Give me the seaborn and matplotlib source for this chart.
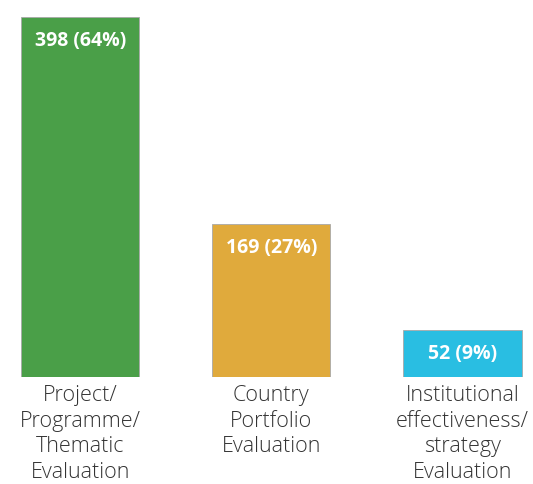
import numpy as np
import pandas as pd
import matplotlib
matplotlib.use("Agg")
import matplotlib.pyplot as plt
import seaborn as sns

# data
categories = ["Project/\nProgramme/\nThematic\nEvaluation",
              "Country\nPortfolio\nEvaluation",
              "Institutional\neffectiveness/\nstrategy\nEvaluation"]
counts = [398, 169, 52]
shares = [64, 27, 9]
colors = ["#4a9f48", "#e0aa3c", "#29bee2"]

sns.set_style("white")
plt.rcParams['font.family'] = ['Open Sans', 'DejaVu Sans']

df = pd.DataFrame({"cat": categories, "n": counts})

fig = plt.figure(figsize=(5.33, 4.84), dpi=100)
ax = fig.add_axes([0, 1 - 377 / 484, 1, 377 / 484])
sns.barplot(data=df, x="cat", y="n", hue="cat", palette=colors, width=0.62,
            edgecolor="#a8a8a8", linewidth=0.6, saturation=1, legend=False, ax=ax)

ax.set_xlim(-0.42, 2.37)
ax.set_ylim(0, 416.8)
ax.set_xlabel("")
ax.set_ylabel("")
ax.set_yticks([])
ax.tick_params(axis="x", length=0, pad=6)
ax.set_xticks(range(len(categories)))
ax.set_xticklabels(categories, fontsize=15.5, color="#333333", linespacing=1.28,
                   fontweight="light")
sns.despine(ax=ax, left=True, bottom=True, top=True, right=True)

for i, (n, s) in enumerate(zip(counts, shares)):
    ax.annotate(f"{n} ({s}%)", xy=(i, n), xytext=(0, -24), textcoords="offset pixels",
                ha="center", va="center", color="white", fontsize=14, fontweight="bold")

fig.savefig("out.png", dpi=100)
